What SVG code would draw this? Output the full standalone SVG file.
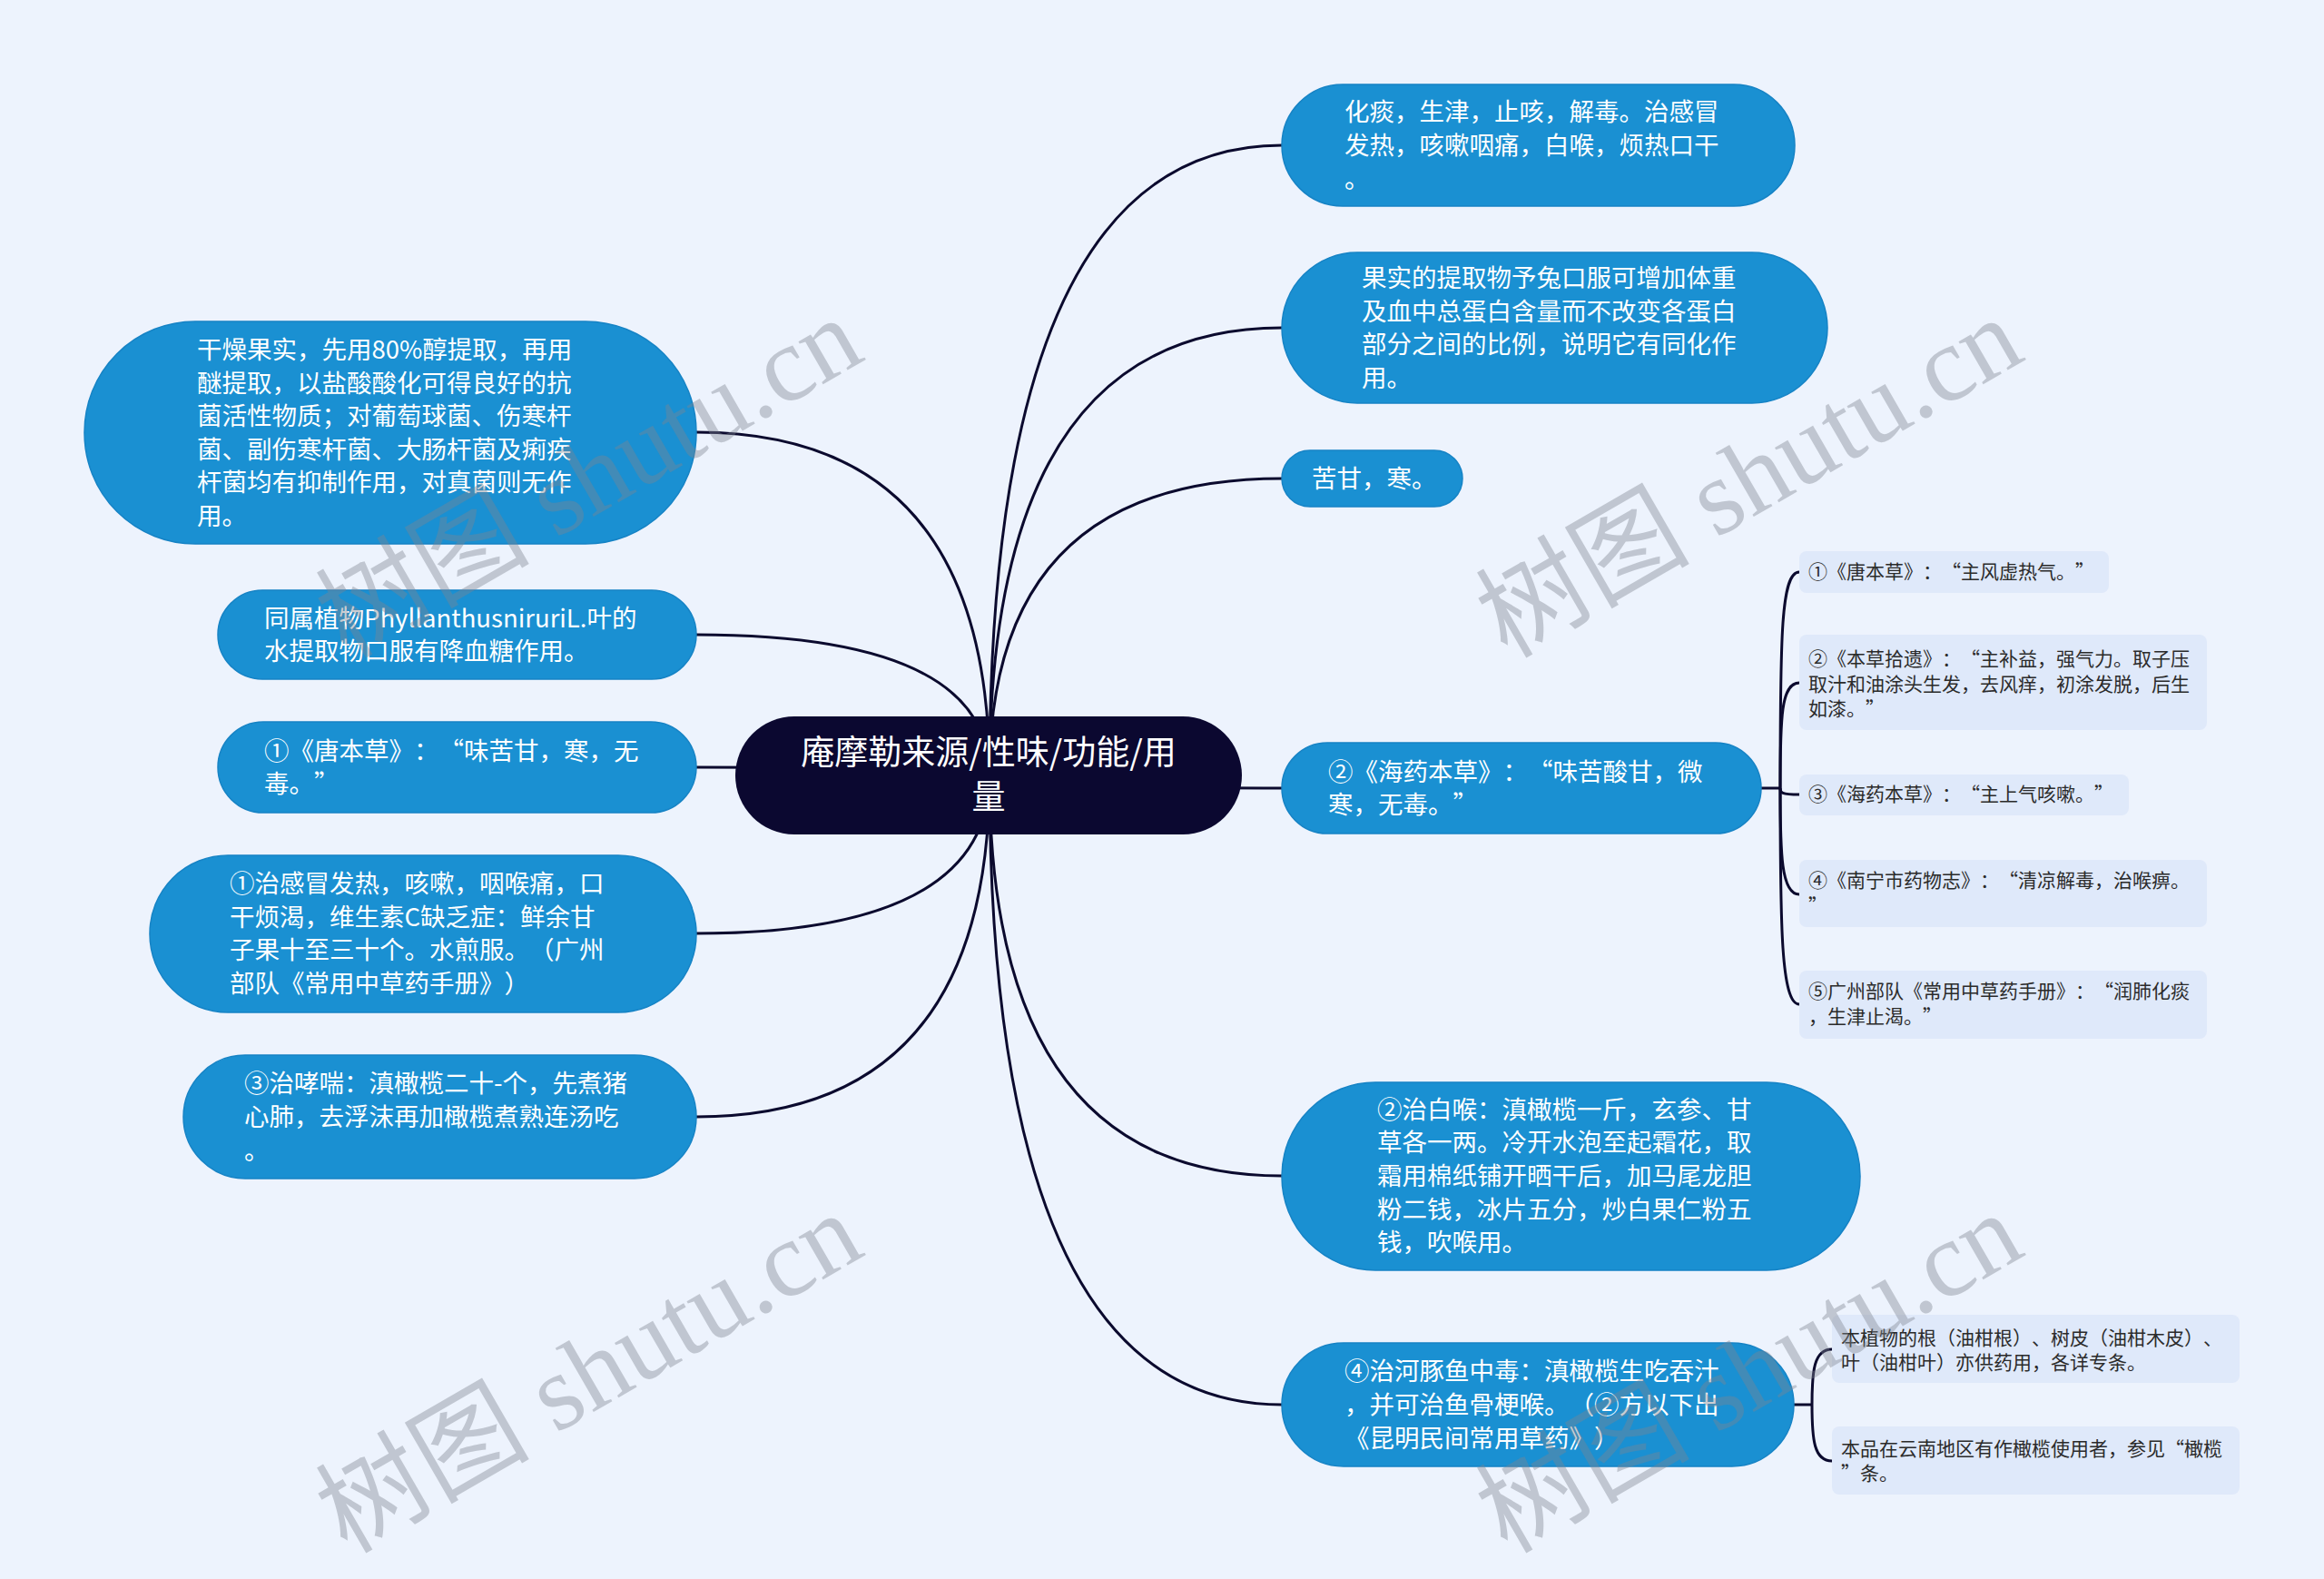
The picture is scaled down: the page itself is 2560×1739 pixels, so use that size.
<svg xmlns="http://www.w3.org/2000/svg" width="2560" height="1739" viewBox="0 0 2560 1739">
<style>
.bg{fill:#edf3fd}
.node{fill:#1a90d2;stroke:#1683c5;stroke-width:1.5}
.root{fill:#0b0830}
.sub{fill:#dfe9fa}
text{text-spacing-trim:space-all}
.t{font-family:"Noto Sans CJK SC","Microsoft YaHei",sans-serif;font-size:27.5px;fill:#ffffff}
.rt{font-family:"Noto Sans CJK SC","Microsoft YaHei",sans-serif;font-size:37px;fill:#ffffff;text-anchor:middle}
.st{font-family:"Noto Sans CJK SC","Microsoft YaHei",sans-serif;font-size:21px;fill:#2b2b2b}
.c{fill:none;stroke:#0b0a2e;stroke-width:3}
.wm{font-family:"Liberation Serif","Noto Sans CJK SC",serif;font-size:118px;fill:#7f8590;opacity:0.4}
</style>
<rect class="bg" x="0" y="0" width="2560" height="1739"/>
<g id="connectors">
<path class="c" d="M1090,854 Q1090,476 767,476"/>
<path class="c" d="M1090,854 Q1090,699 767,699"/>
<path class="c" d="M1090,854 Q1090,845 767,845"/>
<path class="c" d="M1090,854 Q1090,1028 767,1028"/>
<path class="c" d="M1090,854 Q1090,1230 767,1230"/>
<path class="c" d="M1090,854 Q1090,160 1412,160"/>
<path class="c" d="M1090,854 Q1090,361 1412,361"/>
<path class="c" d="M1090,854 Q1090,527 1412,527"/>
<path class="c" d="M1090,854 Q1090,868 1412,868"/>
<path class="c" d="M1090,854 Q1090,1295 1412,1295"/>
<path class="c" d="M1090,854 Q1090,1547 1412,1547"/>
<path class="c" d="M1940,868 L1961,868"/>
<path class="c" d="M1961,868 C1961,700 1962,630 1982,630"/>
<path class="c" d="M1961,868 C1961,790 1962,752 1982,752"/>
<path class="c" d="M1961,868 C1961,873 1962,875 1982,875"/>
<path class="c" d="M1961,868 C1961,940 1962,985 1982,985"/>
<path class="c" d="M1961,868 C1961,1020 1962,1106 1982,1106"/>
<path class="c" d="M1976,1547 L1996,1547"/>
<path class="c" d="M1996,1547 C1996,1510 1998,1486 2018,1486"/>
<path class="c" d="M1996,1547 C1996,1585 1998,1609 2018,1609"/>
</g>
<g id="root">
<rect class="root" x="810" y="789" width="558" height="130" rx="65"/>
<text class="rt" x="1089" y="842">庵摩勒来源/性味/功能/用</text>
<text class="rt" x="1089" y="891">量</text>
</g>
<g id="n1">
<rect class="node" x="93" y="354" width="674" height="245" rx="122"/>
<text class="t"><tspan x="217" y="395">干燥果实，先用80%醇提取，再用</tspan><tspan x="217" y="431.6">醚提取，以盐酸酸化可得良好的抗</tspan><tspan x="217" y="468.2">菌活性物质；对葡萄球菌、伤寒杆</tspan><tspan x="217" y="504.8">菌、副伤寒杆菌、大肠杆菌及痢疾</tspan><tspan x="217" y="541.4">杆菌均有抑制作用，对真菌则无作</tspan><tspan x="217" y="578">用。</tspan></text>
</g>
<g id="n2">
<rect class="node" x="240" y="650" width="527" height="98" rx="49"/>
<text class="t"><tspan x="291" y="691">同属植物PhyllanthusniruriL.叶的</tspan><tspan x="291" y="727">水提取物口服有降血糖作用。</tspan></text>
</g>
<g id="n3">
<rect class="node" x="240" y="795" width="527" height="100" rx="50"/>
<text class="t"><tspan x="291" y="837">①《唐本草》：“味苦甘，寒，无</tspan><tspan x="291" y="873">毒。”</tspan></text>
</g>
<g id="n4">
<rect class="node" x="165" y="942" width="602" height="173" rx="86"/>
<text class="t"><tspan x="253" y="983">①治感冒发热，咳嗽，咽喉痛，口</tspan><tspan x="253" y="1020">干烦渴，维生素C缺乏症：鲜余甘</tspan><tspan x="253" y="1056">子果十至三十个。水煎服。（广州</tspan><tspan x="253" y="1093">部队《常用中草药手册》）</tspan></text>
</g>
<g id="n5">
<rect class="node" x="202" y="1162" width="565" height="136" rx="68"/>
<text class="t"><tspan x="269" y="1203">③治哮喘：滇橄榄二十-个，先煮猪</tspan><tspan x="269" y="1240">心肺，去浮沫再加橄榄煮熟连汤吃</tspan><tspan x="269" y="1277">。</tspan></text>
</g>
<g id="n6">
<rect class="node" x="1412" y="93" width="565" height="134" rx="67"/>
<text class="t"><tspan x="1481" y="133">化痰，生津，止咳，解毒。治感冒</tspan><tspan x="1481" y="170">发热，咳嗽咽痛，白喉，烦热口干</tspan><tspan x="1481" y="207">。</tspan></text>
</g>
<g id="n7">
<rect class="node" x="1412" y="278" width="601" height="166" rx="83"/>
<text class="t"><tspan x="1500" y="316">果实的提取物予兔口服可增加体重</tspan><tspan x="1500" y="353">及血中总蛋白含量而不改变各蛋白</tspan><tspan x="1500" y="389">部分之间的比例，说明它有同化作</tspan><tspan x="1500" y="426">用。</tspan></text>
</g>
<g id="n8">
<rect class="node" x="1412" y="496" width="199" height="62" rx="31"/>
<text class="t" x="1445" y="537">苦甘，寒。</text>
</g>
<g id="n9">
<rect class="node" x="1412" y="818" width="528" height="100" rx="50"/>
<text class="t"><tspan x="1463" y="860">②《海药本草》：“味苦酸甘，微</tspan><tspan x="1463" y="896">寒，无毒。”</tspan></text>
</g>
<g id="n10">
<rect class="node" x="1412" y="1192" width="637" height="207" rx="103"/>
<text class="t"><tspan x="1517" y="1232">②治白喉：滇橄榄一斤，玄参、甘</tspan><tspan x="1517" y="1268">草各一两。冷开水泡至起霜花，取</tspan><tspan x="1517" y="1305">霜用棉纸铺开晒干后，加马尾龙胆</tspan><tspan x="1517" y="1342">粉二钱，冰片五分，炒白果仁粉五</tspan><tspan x="1517" y="1378">钱，吹喉用。</tspan></text>
</g>
<g id="n11">
<rect class="node" x="1412" y="1479" width="564" height="136" rx="68"/>
<text class="t"><tspan x="1481" y="1520">④治河豚鱼中毒：滇橄榄生吃吞汁</tspan><tspan x="1481" y="1557">，并可治鱼骨梗喉。（②方以下出</tspan><tspan x="1481" y="1594">《昆明民间常用草药》）</tspan></text>
</g>
<g id="s9a">
<rect class="sub" x="1982" y="607" width="341" height="46" rx="8"/>
<text class="st" x="1992" y="637">①《唐本草》：“主风虚热气。”</text>
</g>
<g id="s9b">
<rect class="sub" x="1982" y="699" width="449" height="105" rx="8"/>
<text class="st"><tspan x="1992" y="733">②《本草拾遗》：“主补益，强气力。取子压</tspan><tspan x="1992" y="760.5">取汁和油涂头生发，去风痒，初涂发脱，后生</tspan><tspan x="1992" y="788">如漆。”</tspan></text>
</g>
<g id="s9c">
<rect class="sub" x="1982" y="853" width="363" height="45" rx="8"/>
<text class="st" x="1992" y="882">③《海药本草》：“主上气咳嗽。”</text>
</g>
<g id="s9d">
<rect class="sub" x="1982" y="947" width="449" height="74" rx="8"/>
<text class="st"><tspan x="1992" y="977">④《南宁市药物志》：“清凉解毒，治喉痹。</tspan><tspan x="1992" y="1004.5">”</tspan></text>
</g>
<g id="s9e">
<rect class="sub" x="1982" y="1069" width="449" height="75" rx="8"/>
<text class="st"><tspan x="1992" y="1099">⑤广州部队《常用中草药手册》：“润肺化痰</tspan><tspan x="1992" y="1126.5">，生津止渴。”</tspan></text>
</g>
<g id="s11a">
<rect class="sub" x="2018" y="1448" width="449" height="75" rx="8"/>
<text class="st"><tspan x="2028" y="1481">本植物的根（油柑根）、树皮（油柑木皮）、</tspan><tspan x="2028" y="1508">叶（油柑叶）亦供药用，各详专条。</tspan></text>
</g>
<g id="s11b">
<rect class="sub" x="2018" y="1571" width="449" height="75" rx="8"/>
<text class="st"><tspan x="2028" y="1603">本品在云南地区有作橄榄使用者，参见“橄榄</tspan><tspan x="2028" y="1630">”条。</tspan></text>
</g>
<g id="watermarks">
<text class="wm" transform="translate(382,726) rotate(-30)">树图 shutu.cn</text>
<text class="wm" transform="translate(382,1712) rotate(-30)">树图 shutu.cn</text>
<text class="wm" transform="translate(1660,726) rotate(-30)">树图 shutu.cn</text>
<text class="wm" transform="translate(1660,1712) rotate(-30)">树图 shutu.cn</text>
</g>
</svg>
